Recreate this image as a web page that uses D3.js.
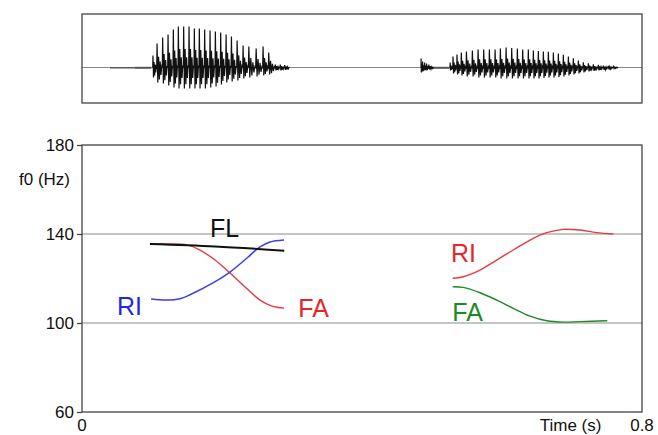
<!DOCTYPE html>
<html lang="en">
  <head>
    <meta charset="UTF-8" />
    <title>f0 contours</title>
    <style>
      body {
        margin: 0;
        background: #fff;
      }
      svg text {
        font-family: "Liberation Sans", Arial, sans-serif;
      }
    </style>
  </head>
  <body>
    <div id="chart"></div>
    <script src="https://cdnjs.cloudflare.com/ajax/libs/d3/7.8.5/d3.min.js"></script>
    <script>
      // ---- data ----
      var yTicks = [60, 100, 140, 180];
      var yGrid = [100, 140];
      var xTickLabels = ["0", "0.8"];
      var xTickTimes = [0, 0.8];

      // f0 contours: [time (s), f0 (Hz)]
      var flLeft = [[0.097, 135.5], [0.19, 134.4], [0.289, 132.5]];
      var faLeft = [
        [0.097, 135.5], [0.1257, 135.5], [0.15, 135.1], [0.1686, 132.8],
        [0.19, 128.3], [0.2114, 122.5], [0.2329, 116.2], [0.2543, 110.3],
        [0.2714, 107.6], [0.2886, 106.7]
      ];
      var riLeft = [
        [0.0986, 110.8], [0.12, 110.3], [0.14, 110.9], [0.155, 112.8],
        [0.1871, 118], [0.2114, 122.9], [0.2357, 129.2], [0.2543, 134.2],
        [0.2686, 136.4], [0.2886, 137.3]
      ];
      var riRight = [
        [0.5296, 120.1], [0.5447, 120.8], [0.5686, 123.8], [0.5924, 128.3],
        [0.6161, 132.8], [0.64, 137.3], [0.6639, 140.6], [0.6876, 142.1],
        [0.7114, 141.8], [0.7353, 140.6], [0.759, 140]
      ];
      var faRight = [
        [0.5296, 116.3], [0.5447, 116.0], [0.5686, 113.6], [0.5924, 110.3],
        [0.6161, 106.6], [0.64, 103.1], [0.6639, 101.0], [0.6876, 100.4],
        [0.7114, 100.6], [0.7504, 101.0]
      ];

      // waveform: glottal pulse times (s), peak above and trough below zero
      var pulseTimes1 = [
        0.101, 0.1067, 0.1147, 0.1224, 0.13, 0.1371, 0.1447, 0.1524, 0.16,
        0.1671, 0.1747, 0.1824, 0.19, 0.1976, 0.2053, 0.2129, 0.221, 0.2296,
        0.2376, 0.2481, 0.2581, 0.2661, 0.2757, 0.2829, 0.289
      ];
      var pulseUp1 = [
        12, 24, 30, 33, 38, 41, 41, 41, 39, 39, 38, 37, 36, 35, 33, 31, 27, 22,
        21, 19, 21, 15, 3, 3, 2.5
      ];
      var pulseDown1 = [
        10, 15, 16, 18, 20, 21, 21, 21, 21, 21, 21, 20, 19, 17, 15, 14, 13, 11,
        10, 9, 8, 7, 3, 3, 2.5
      ];
      var pulseTimes2 = [
        0.5257, 0.5296, 0.5353, 0.5414, 0.5486, 0.5571, 0.5653, 0.5733, 0.5814,
        0.5896, 0.5971, 0.6053, 0.6133, 0.6214, 0.629, 0.6371, 0.6443, 0.6514,
        0.6586, 0.6657, 0.6729, 0.68, 0.6871, 0.6943, 0.7014, 0.7086, 0.7157,
        0.7229, 0.73, 0.7371, 0.7443, 0.7514, 0.7586
      ];
      var pulseUp2 = [
        5, 11, 13, 15, 16, 17, 18, 18, 18, 18, 19, 20, 19.5, 19, 18, 18, 17,
        16.5, 16, 15.7, 15, 14, 12.7, 11, 9.3, 7, 5.3, 4.3, 3.3, 2.7, 2, 1.7, 1
      ];
      var pulseDown2 = [
        3, 6, 7, 8, 9, 9, 10, 10, 10, 10, 11, 11, 11, 11, 11, 11, 11, 11, 10.5,
        10, 10, 9.5, 9, 8, 7, 6, 5, 4, 3.5, 3, 2.5, 2, 1
      ];
      // release burst before the second vowel
      var burstTimes = [0.4843, 0.4864, 0.4893, 0.4921, 0.495];
      var burstUp = [9, 6, 5, 4, 3];
      var burstDown = [5, 4, 3, 3, 2];
      // low-level noise stretches: [start, end, thickness]
      var noiseSpans = [[0.04, 0.075, 1.4], [0.075, 0.099, 2], [0.4955, 0.525, 2]];

      // ---- layout ----
      var W = 658, H = 435;
      var plot = { left: 82, right: 642, top: 145, bottom: 412 };
      var wave = { top: 14, bottom: 103 };

      var svg = d3
        .select("#chart")
        .append("svg")
        .attr("width", W)
        .attr("height", H);

      var x = d3.scaleLinear().domain([0, 0.8]).range([plot.left, plot.right]);
      var y = d3.scaleLinear().domain([60, 180]).range([plot.bottom, plot.top]);
      // waveform amplitude, zero line sits below the box centre
      var ya = d3.scaleLinear().domain([-35.5, 53.5]).range([wave.bottom, wave.top]);

      // ---- waveform panel ----
      svg
        .append("line")
        .attr("x1", plot.left)
        .attr("x2", plot.right)
        .attr("y1", ya(0))
        .attr("y2", ya(0))
        .attr("stroke", "#888")
        .attr("stroke-width", 1);

      svg
        .selectAll(".noise")
        .data(noiseSpans)
        .enter()
        .append("line")
        .attr("x1", function (d) { return x(d[0]); })
        .attr("x2", function (d) { return x(d[1]); })
        .attr("y1", ya(-0.3))
        .attr("y2", ya(-0.3))
        .attr("stroke", "#555")
        .attr("stroke-width", function (d) { return d[2]; });

      function pulsePoints(times, up, down) {
        var pts = [];
        for (var i = 0; i < times.length; i++) {
          var t = times[i];
          var P = i < times.length - 1 ? times[i + 1] - t : 0.0075;
          var a = up[i], b = down[i];
          pts.push([t, 0]);
          pts.push([t + 0.07 * P, a]);
          pts.push([t + 0.2 * P, -b]);
          pts.push([t + 0.34 * P, 0.45 * a]);
          pts.push([t + 0.48 * P, -0.8 * b]);
          pts.push([t + 0.62 * P, 0.25 * a]);
          pts.push([t + 0.76 * P, -0.5 * b]);
          pts.push([t + 0.9 * P, 0.05 * a]);
        }
        pts.push([times[times.length - 1] + 0.0075, 0]);
        return pts;
      }

      var waveLine = d3
        .line()
        .x(function (d) { return x(d[0]); })
        .y(function (d) { return ya(d[1]); });

      [
        pulsePoints(pulseTimes1, pulseUp1, pulseDown1),
        pulsePoints(burstTimes, burstUp, burstDown),
        pulsePoints(pulseTimes2, pulseUp2, pulseDown2)
      ].forEach(function (pts) {
        svg
          .append("path")
          .attr("d", waveLine(pts))
          .attr("fill", "none")
          .attr("stroke", "#111")
          .attr("stroke-width", 1.2);
      });

      svg
        .append("rect")
        .attr("x", plot.left)
        .attr("y", wave.top)
        .attr("width", plot.right - plot.left)
        .attr("height", wave.bottom - wave.top)
        .attr("fill", "none")
        .attr("stroke", "#444")
        .attr("stroke-width", 1.3);

      // ---- f0 panel ----
      svg
        .selectAll(".grid")
        .data(yGrid)
        .enter()
        .append("line")
        .attr("x1", plot.left)
        .attr("x2", plot.right)
        .attr("y1", function (d) { return y(d); })
        .attr("y2", function (d) { return y(d); })
        .attr("stroke", "#8a8a8a")
        .attr("stroke-width", 1);

      svg
        .append("rect")
        .attr("x", plot.left)
        .attr("y", plot.top)
        .attr("width", plot.right - plot.left)
        .attr("height", plot.bottom - plot.top)
        .attr("fill", "none")
        .attr("stroke", "#444")
        .attr("stroke-width", 1.3);

      var yAxis = d3.axisLeft(y).tickValues(yTicks).tickSize(5).tickPadding(3);
      var gy = svg
        .append("g")
        .attr("transform", "translate(" + plot.left + ",0)")
        .call(yAxis);
      gy.select(".domain").remove();
      gy.selectAll("line").attr("stroke", "#444").attr("stroke-width", 1.3);
      gy.selectAll("text")
        .attr("font-size", 17)
        .attr("fill", "#111")
        .style("font-family", "'Liberation Sans', Arial, sans-serif");

      svg
        .selectAll(".xlab")
        .data(xTickTimes)
        .enter()
        .append("text")
        .attr("x", function (d) { return x(d); })
        .attr("y", 431)
        .attr("text-anchor", "middle")
        .attr("font-size", 17)
        .attr("fill", "#111")
        .text(function (d, i) { return xTickLabels[i]; });

      svg
        .append("text")
        .attr("x", x(0.698))
        .attr("y", 431)
        .attr("text-anchor", "middle")
        .attr("font-size", 17)
        .attr("fill", "#111")
        .text("Time (s)");

      svg
        .append("text")
        .attr("x", 70)
        .attr("y", 185)
        .attr("text-anchor", "end")
        .attr("font-size", 17)
        .attr("fill", "#111")
        .text("f0 (Hz)");

      var f0Line = d3
        .line()
        .curve(d3.curveCatmullRom.alpha(0.5))
        .x(function (d) { return x(d[0]); })
        .y(function (d) { return y(d[1]); });

      var contours = [
        { pts: faLeft, color: "#e8393c", w: 1.4 },
        { pts: riLeft, color: "#3d3de3", w: 1.5 },
        { pts: flLeft, color: "#111", w: 2 },
        { pts: riRight, color: "#e8393c", w: 1.4 },
        { pts: faRight, color: "#1e8a24", w: 1.4 }
      ];

      svg
        .selectAll(".f0")
        .data(contours)
        .enter()
        .append("path")
        .attr("d", function (d) { return f0Line(d.pts); })
        .attr("fill", "none")
        .attr("stroke", function (d) { return d.color; })
        .attr("stroke-width", function (d) { return d.w; });

      var labels = [
        { text: "FL", t: 0.183, f: 138.6, color: "#111" },
        { text: "RI", t: 0.05, f: 103.6, color: "#2727d9" },
        { text: "FA", t: 0.309, f: 102.7, color: "#e52629" },
        { text: "RI", t: 0.527, f: 127.4, color: "#e52629" },
        { text: "FA", t: 0.529, f: 100.9, color: "#1a8a21" }
      ];

      svg
        .selectAll(".clab")
        .data(labels)
        .enter()
        .append("text")
        .attr("x", function (d) { return x(d.t); })
        .attr("y", function (d) { return y(d.f); })
        .attr("font-size", 25)
        .attr("fill", function (d) { return d.color; })
        .text(function (d) { return d.text; });
    </script>
  </body>
</html>
